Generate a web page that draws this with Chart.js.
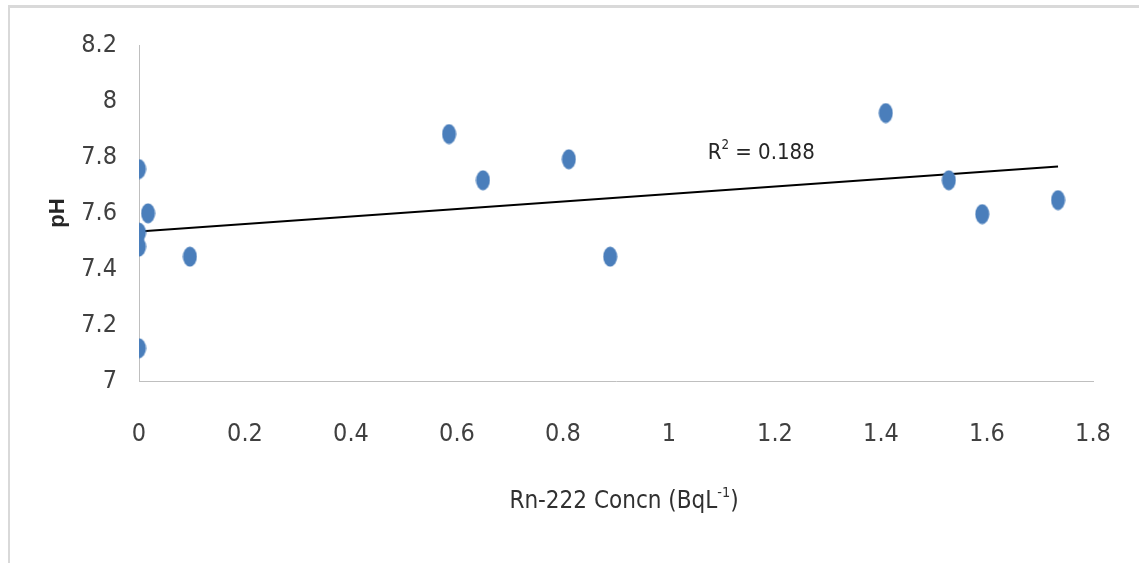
<!DOCTYPE html>
<html>
<head>
<meta charset="utf-8">
<script src="https://cdn.jsdelivr.net/npm/chart.js@4"></script>
<style>
  body { margin: 0; background: #fff; }
  #frame { position: absolute; top: 5px; left: 8px; right: 0; bottom: 0;
           border-top: 3px solid #d9d9d9; border-left: 2px solid #d9d9d9; }
  #phChart { position: absolute; top: 0; left: 0; }
</style>
</head>
<body>
<div id="frame"></div>
<canvas id="phChart" width="1139" height="563"></canvas>
<script>
// Rn-222 concentration (BqL-1) and pH per sample
const rnConc = [0, 0, 0, 0, 0.017, 0.096, 0.585, 0.649, 0.811, 0.889, 1.409, 1.528, 1.591, 1.734];
const phVals = [7.757, 7.53, 7.48, 7.117, 7.599, 7.444, 7.882, 7.717, 7.792, 7.444, 7.957, 7.717, 7.596, 7.646];

// trendline ends
const trendX = [0, 1.734];
const trendY = [7.534, 7.766];
const rSquared = '0.188';

const xTickLabels = ['0', '0.2', '0.4', '0.6', '0.8', '1', '1.2', '1.4', '1.6', '1.8'];
const yTickLabels = ['7', '7.2', '7.4', '7.6', '7.8', '8', '8.2'];

const FONT = "'Liberation Sans Narrow', 'DejaVu Sans Condensed', sans-serif";
const TEXT = '#404040';

// Excel style marker, slightly taller than wide
const marker = document.createElement('canvas');
marker.width = 15; marker.height = 21;
(function () {
    const c = marker.getContext('2d');
    c.fillStyle = '#4a7ebb';
    c.beginPath();
    c.ellipse(7.5, 10.5, 7, 10, 0, 0, Math.PI * 2);
    c.fill();
})();

// draws x title and R² label with real superscripts
const textPlugin = {
    id: 'supText',
    afterDraw(chart) {
        const ctx = chart.ctx;
        const xs = chart.scales.x, ys = chart.scales.y;

        function supText(parts, cx, cy, size, color) {
            ctx.save();
            ctx.fillStyle = color;
            ctx.textBaseline = 'middle';
            ctx.textAlign = 'left';
            let total = 0;
            parts.forEach(p => {
                ctx.font = (p.sup ? size * 0.6 : size) + 'px ' + FONT;
                p.w = ctx.measureText(p.t).width;
                total += p.w;
            });
            let x = cx - total / 2;
            parts.forEach(p => {
                ctx.font = (p.sup ? size * 0.6 : size) + 'px ' + FONT;
                ctx.fillText(p.t, x, p.sup ? cy - size * 0.35 : cy);
                x += p.w;
            });
            ctx.restore();
        }

        supText([{ t: 'Rn-222 Concn (BqL' }, { t: '-1', sup: true }, { t: ')' }],
            624, 502, 24, '#303030');
        supText([{ t: 'R' }, { t: '2', sup: true }, { t: ' = ' + rSquared }],
            xs.getPixelForValue(1.174), ys.getPixelForValue(7.814), 22, '#262626');
    }
};

new Chart(document.getElementById('phChart'), {
    data: {
        datasets: [{
            type: 'scatter',
            label: 'pH',
            data: rnConc.map((x, i) => ({ x: x, y: phVals[i] })),
            pointStyle: marker,
            pointRadius: 7
        }, {
            type: 'line',
            label: 'Trend',
            data: trendX.map((x, i) => ({ x: x, y: trendY[i] })),
            borderColor: '#000',
            borderWidth: 2,
            pointRadius: 0,
            fill: false
        }]
    },
    options: {
        responsive: false,
        animation: false,
        layout: { padding: { top: 45, right: 46, left: 0, bottom: 0 } },
        plugins: { legend: { display: false }, tooltip: { enabled: false } },
        scales: {
            x: {
                type: 'linear',
                min: 0,
                max: 1.8,
                ticks: {
                    stepSize: 0.2,
                    padding: 38,
                    color: TEXT,
                    font: { family: FONT, size: 25 },
                    maxRotation: 0,
                    callback: (v, i) => xTickLabels[i]
                },
                grid: { display: false, drawTicks: false },
                border: { color: '#bfbfbf', width: 1 },
                afterFit: s => { s.height = 182; s.paddingLeft = 0; s.paddingRight = 0; }
            },
            y: {
                min: 7,
                max: 8.2,
                ticks: {
                    stepSize: 0.2,
                    padding: 22,
                    color: TEXT,
                    font: { family: FONT, size: 25 },
                    callback: (v, i) => yTickLabels[i]
                },
                grid: { display: false, drawTicks: false },
                border: { color: '#bfbfbf', width: 1 },
                title: {
                    display: true,
                    text: 'pH',
                    color: '#262626',
                    font: { family: "'Liberation Sans', Arial, sans-serif", size: 22, weight: 'bold' },
                    padding: { top: 45, bottom: 0 }
                },
                afterFit: s => { s.width = 139; s.paddingTop = 0; s.paddingBottom = 0; }
            }
        }
    },
    plugins: [textPlugin]
});
</script>
</body>
</html>
